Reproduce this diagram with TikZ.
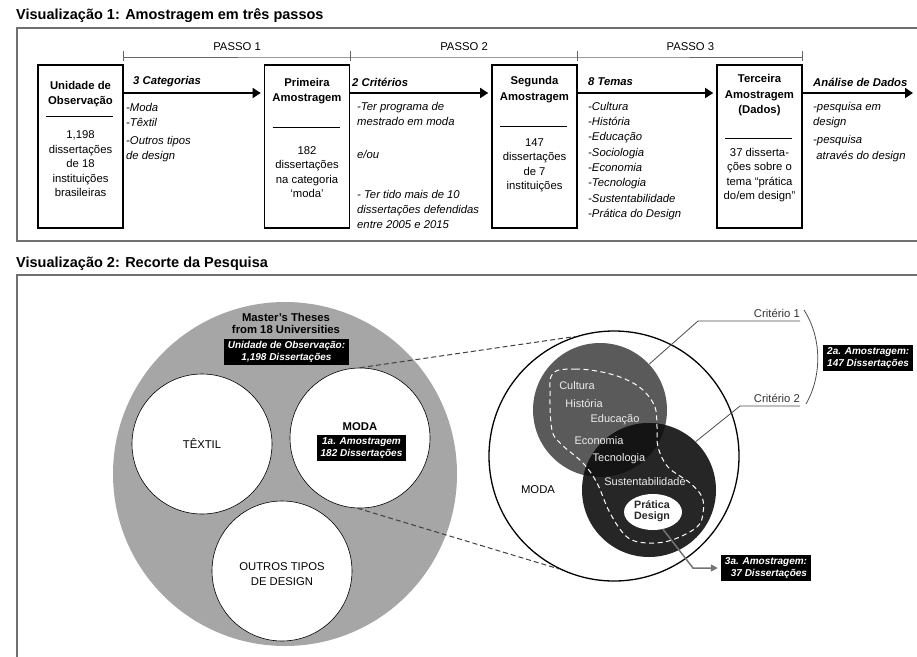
\documentclass[tikz,border=0pt]{standalone}
\usepackage{fontspec}
\setmainfont{Liberation Sans}
\usetikzlibrary{positioning, arrows.meta, shapes.geometric}

\definecolor{framegray}{HTML}{707070}
\definecolor{univgray}{HTML}{A6A6A6}
\definecolor{critone}{HTML}{5A5A5A}
\definecolor{crittwo}{HTML}{262626}
\definecolor{critboth}{HTML}{141414}
\definecolor{softwhite}{HTML}{EDEDED}

\begin{document}
\begin{tikzpicture}[x=1pt, y=-1pt,
    frame/.style={draw=framegray, line width=1.2pt},
    heading/.style={font=\fontsize{14.5}{17}\selectfont\bfseries, anchor=west, inner sep=0pt},
    stagebox/.style={draw, line width=1.6pt, minimum width=85, minimum height=163, inner sep=0pt},
    boxhead/.style={font=\fontsize{11.3}{15.5}\selectfont\bfseries, align=center, inner sep=0pt},
    boxbody/.style={font=\fontsize{11.3}{14.5}\selectfont, align=center, inner sep=0pt},
    boxrule/.style={line width=1pt},
    sidehead/.style={font=\fontsize{11.3}{14}\selectfont\bfseries\itshape, anchor=west, inner sep=0pt},
    sidelist/.style={font=\fontsize{11.3}{15.3}\selectfont\itshape, align=left, anchor=north west, inner sep=0pt},
    flow/.style={-{Triangle[length=8pt,width=10pt]}, line width=1.7pt, shorten >=3pt},
    passo/.style={draw=black!60, line width=0.8pt},
    passolbl/.style={font=\fontsize{11.3}{14}\selectfont, inner sep=0pt},
    subcirc/.style={circle, draw, fill=white, line width=0.6pt, minimum size=140, inner sep=0pt},
    plain/.style={font=\fontsize{11.3}{15}\selectfont, align=center, inner sep=0pt},
    plainbold/.style={font=\fontsize{11.3}{12.5}\selectfont\bfseries, align=center, inner sep=0pt},
    blackbox/.style={fill=black, text=white, font=\fontsize{10}{12}\selectfont\bfseries\itshape, inner xsep=4pt, inner ysep=2.5pt},
    circtext/.style={font=\fontsize{11}{13}\selectfont, text=softwhite, inner sep=0pt},
    critline/.style={draw=black!70, line width=0.8pt},
    zoomline/.style={draw=black!75, line width=1pt, dash pattern=on 5pt off 3pt},
    grayflow/.style={draw=black!55, line width=1.5pt, -{Triangle[length=7pt,width=7pt]}, shorten >=3pt}
  ]

    \clip (0,0) rectangle (917,656);

    % Titles and frames
    \node[heading] (title1) at (16,16) {Visualização 1: Amostragem em três passos};
    \draw[frame] (17,28) rectangle (940,241);
    \node[heading] (title2) at (16,264) {Visualização 2: Recorte da Pesquisa};
    \draw[frame] (17,275) rectangle (940,690);

    % Stage boxes
    \node[stagebox] (unid) at (80.5,146.5) {};
    \node[stagebox] (prim) at (307,146.5) {};
    \node[stagebox] (seg)  at (534.5,146.5) {};
    \node[stagebox] (terc) at (759.5,146.5) {};

    \node[boxhead] (unidhead) at (80.5,94)  {Unidade de\\Observação};
    \node[boxbody] (unidbody) at (80.5,164) {1,198\\dissertações\\de 18\\instituições\\brasileiras};
    \node[boxhead] (primhead) at (307,91)   {Primeira\\Amostragem};
    \node[boxbody] (primbody) at (307,172)  {182\\dissertações\\na categoria\\‘moda’};
    \node[boxhead] (seghead)  at (534.5,89.5) {Segunda\\Amostragem};
    \node[boxbody] (segbody)  at (534.5,165.5) {147\\dissertações\\de 7\\instituições};
    \node[boxhead] (terchead) at (759.5,95.5) {Terceira\\Amostragem\\(Dados)};
    \node[boxbody] (tercbody) at (759.5,175)  {37 disserta-\\ções sobre o\\tema “prática\\do/em design”};

    \foreach \b/\r in {unid/116, prim/127, seg/126, terc/138}
        \draw[boxrule] (\b.west |- 0,\r) ++(9,0) -- ++(67,0);

    % Passos
    \coordinate (passoy) at (0,57);
    \draw[passo] (unid.east |- passoy)
        -- node[passolbl, above=6pt] (passo1) {PASSO 1} (prim.east |- passoy)
        -- node[passolbl, above=6pt] (passo2) {PASSO 2} (seg.east |- passoy)
        -- node[passolbl, above=6pt] (passo3) {PASSO 3} (terc.east |- passoy);
    \foreach \b in {unid, prim, seg, terc}
        \draw[passo] (\b.east |- 0,51) -- (\b.east |- 0,61);

    % Arrows between stages
    \coordinate (flowy) at (0,93);
    \coordinate (dataend) at (916,93);
    \draw[flow] (unid.east |- flowy) -- (prim.west |- flowy);
    \draw[flow] (prim.east |- flowy) -- (seg.west |- flowy);
    \draw[flow] (seg.east |- flowy)  -- (terc.west |- flowy);
    \draw[flow] (terc.east |- flowy) -- (dataend);

    % Labels along the arrows
    \node[sidehead] (cat) at (133,82) {3 Categorias};
    \node[sidelist] (catlist) at (126,103) {-Moda\\-Têxtil\\[2.4pt]-Outros tipos\\de design};
    \node[sidehead] (crit) at (352,82) {2 Critérios};
    \node[sidelist] (critlist) at (357,102) {-Ter programa de\\mestrado em moda\\[18pt]e/ou\\[24pt]- Ter tido mais de 10\\dissertações defendidas\\entre 2005 e 2015};
    \node[sidehead] (temas) at (588,82) {8 Temas};
    \node[sidelist] (temaslist) at (588,102) {-Cultura\\-História\\-Educação\\-Sociologia\\-Economia\\-Tecnologia\\-Sustentabilidade\\-Prática do Design};
    \node[sidehead] (dados) at (813,82) {Análise de Dados};
    \node[sidelist] (dadoslist) at (813,102) {-pesquisa em\\design\\[3pt]-pesquisa\\\ através do design};

    % Universe of theses
    \node[circle, fill=univgray, minimum size=344, inner sep=0pt] (univ) at (285,474) {};
    \node[subcirc] (textil) at (202,444) {};
    \node[subcirc] (moda) at (360,438) {};
    \node[subcirc] (outros) at (282,571) {};

    \node[plainbold] (masters) at (286,323.5) {Master's Theses\\from 18 Universities};
    \node[blackbox, align=center] (obsbox) at (286.5,352) {Unidade de Observação:\\1,198 Dissertações};
    \node[plain] (textillbl) at (202,444) {TÊXTIL};
    \node[plainbold] (modalbl) at (360,427) {MODA};
    \node[blackbox, align=center] (amos1) at (361.5,448) {1a. Amostragem\\182 Dissertações};
    \node[plain] (outroslbl) at (282,574.5) {OUTROS TIPOS\\DE DESIGN};

    % Zoom on MODA
    \node[circle, draw, fill=white, line width=1.3pt, minimum size=250, inner sep=0pt] (recorte) at (614,456) {};
    \draw[zoomline] (moda.north) -- (recorte.108);
    \draw[zoomline] (moda.268) -- (recorte.244);

    \node[circle, fill=critone, minimum size=134, inner sep=0pt] (critA) at (600,410) {};
    \node[circle, fill=crittwo, minimum size=134, inner sep=0pt] (critB) at (649,490) {};
    \begin{scope}
        \clip (critA.center) circle (67);
        \fill[critboth] (critB.center) circle (67);
    \end{scope}

    % Dashed outline of the themes
    \draw[white, line width=1pt, dash pattern=on 5pt off 3.5pt] plot[smooth cycle, tension=0.6] coordinates {
        (553,373) (575,369) (602,372) (625,379) (643,390) (655,407) (657,427) (658,447)
        (668,467) (690,483) (702,497) (703,513) (697,527) (672,540) (647,543) (627,537)
        (610,513) (597,483) (583,463) (561,444) (552,430) (550,395)};

    \node[circtext] (cultura)  at (577,386) {Cultura};
    \node[circtext] (historia) at (584,403) {História};
    \node[circtext] (educacao) at (615,420) {Educação};
    \node[circtext] (economia) at (599,441) {Economia};
    \node[circtext] (tecno)    at (619,459) {Tecnologia};
    \node[circtext] (sustent)  at (645,482) {Sustentabilidade};
    \node[plain] (modasub) at (538,490) {MODA};

    \node[ellipse, fill=white, minimum width=58, minimum height=36, inner sep=0pt] (pd) at (653,512) {};
    \node[font=\fontsize{10.7}{11.3}\selectfont\bfseries, text=black!85, align=center, inner sep=0pt] (pdlbl) at (652,511) {Prática\\Design};

    % Criteria
    \node[passolbl, anchor=south east, text=black!80] (crit1lbl) at (800,318) {Critério 1};
    \node[passolbl, anchor=south east, text=black!80] (crit2lbl) at (800,403) {Critério 2};
    \coordinate (kink1) at (698,321);
    \coordinate (kink2) at (740,406);
    \draw[critline] (critA.43) -- (kink1) -- (crit1lbl.south east |- kink1);
    \draw[critline] (critB.46) -- (kink2) -- (crit2lbl.south east |- kink2);
    \coordinate (brtop) at (804,310);
    \coordinate (brbot) at (806,404);
    \draw[critline] (brtop) .. controls (822,338) and (822,376) .. (brbot);
    \node[blackbox, anchor=west, align=left] (amos2) at (823,358) {2a. Amostragem:\\147 Dissertações};

    % Third sample
    \node[blackbox, align=right] (amos3) at (766,568) {3a. Amostragem:\\37 Dissertações};
    \coordinate (bend3) at (693,568);
    \draw[grayflow] (pd.-60) -- (bend3) -- (amos3.west);

\end{tikzpicture}
\end{document}
